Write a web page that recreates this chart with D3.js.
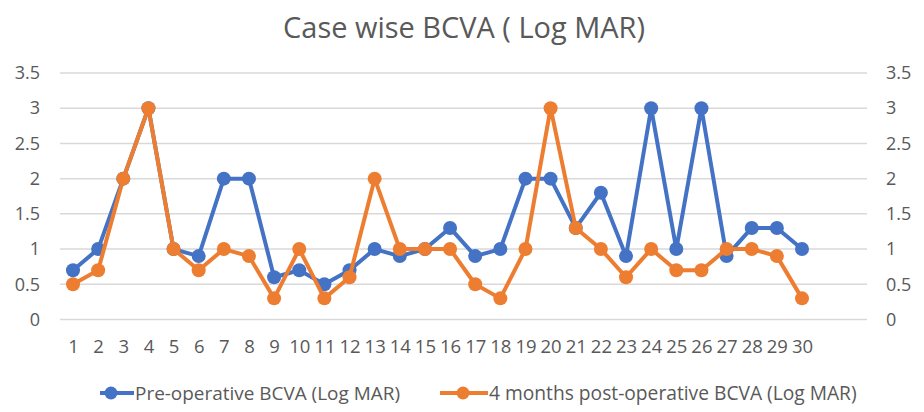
<!DOCTYPE html>
<html>
<head>
<meta charset="utf-8">
<script src="https://cdn.jsdelivr.net/npm/d3@7"></script>
<style>
  html, body { margin: 0; padding: 0; background: #ffffff; }
  svg { display: block; font-family: "Open Sans", "Noto Sans", sans-serif; }
</style>
</head>
<body>
<svg id="chart" width="924" height="412"></svg>
<script>
const title = "Case wise BCVA ( Log MAR)";
const categories = ["1","2","3","4","5","6","7","8","9","10","11","12","13","14","15","16","17","18","19","20","21","22","23","24","25","26","27","28","29","30"];
const preOp = [0.7,1,2,3,1,0.9,2,2,0.6,0.7,0.5,0.7,1,0.9,1,1.3,0.9,1,2,2,1.3,1.8,0.9,3,1,3,0.9,1.3,1.3,1];
const postOp = [0.5,0.7,2,3,1,0.7,1,0.9,0.3,1,0.3,0.6,2,1,1,1,0.5,0.3,1,3,1.3,1,0.6,1,0.7,0.7,1,1,0.9,0.3];
const yTicks = [0,0.5,1,1.5,2,2.5,3,3.5];
const seriesNames = ["Pre-operative BCVA (Log MAR)", "4 months post-operative BCVA (Log MAR)"];
const colors = ["#4472C4", "#ED7D31"];

const svg = d3.select("#chart");
const textColor = "#595959";

// scales
const x = d3.scalePoint().domain(categories).range([73, 802]);
const y = d3.scaleLinear().domain([0, 3.5]).range([319.5, 73]);
const gridLeft = 60, gridRight = 867;

function fit(sel, targetW) {
  const node = sel.node();
  const fs = parseFloat(sel.attr("font-size"));
  const w = node.getComputedTextLength();
  if (w > 0) sel.attr("font-size", (fs * targetW / w).toFixed(2));
}

// title
const t = svg.append("text")
  .attr("x", 464).attr("y", 38)
  .attr("text-anchor", "middle")
  .attr("font-size", 24)
  .attr("fill", textColor)
  .text(title);
fit(t, 362);

// gridlines
svg.append("g").selectAll("line").data(yTicks).join("line")
  .attr("x1", gridLeft).attr("x2", gridRight)
  .attr("y1", d => y(d)).attr("y2", d => y(d))
  .attr("stroke", "#D9D9D9").attr("stroke-width", 1.5);

// left axis
const leftAxis = d3.axisLeft(y).tickValues(yTicks).tickSize(0).tickPadding(0).tickFormat(d3.format("~g"));
const gl = svg.append("g").attr("transform", "translate(40,0)").call(leftAxis);
gl.select(".domain").remove();
gl.selectAll("text").attr("font-size", 18).attr("fill", textColor).attr("font-family", "Open Sans");

// right axis
const rightAxis = d3.axisRight(y).tickValues(yTicks).tickSize(0).tickPadding(0).tickFormat(d3.format("~g"));
const gr = svg.append("g").attr("transform", "translate(886,0)").call(rightAxis);
gr.select(".domain").remove();
gr.selectAll("text").attr("font-size", 18).attr("fill", textColor).attr("font-family", "Open Sans");

// bottom axis
const bottomAxis = d3.axisBottom(x).tickSize(0).tickPadding(0);
const gb = svg.append("g").attr("transform", "translate(0,340)").call(bottomAxis);
gb.select(".domain").remove();
gb.selectAll("text").attr("font-size", 18.5).attr("fill", textColor).attr("font-family", "Open Sans").attr("dy", "0.71em");

// series
const data = [preOp, postOp];
const line = d3.line().x((d, i) => x(categories[i])).y(d => y(d));
data.forEach((vals, si) => {
  const g = svg.append("g");
  g.append("path").datum(vals)
    .attr("d", line)
    .attr("fill", "none")
    .attr("stroke", colors[si])
    .attr("stroke-width", 4)
    .attr("stroke-linejoin", "round");
  g.selectAll("circle").data(vals).join("circle")
    .attr("cx", (d, i) => x(categories[i]))
    .attr("cy", d => y(d))
    .attr("r", 7)
    .attr("fill", colors[si]);
});

// legend
const legendItems = [
  { name: seriesNames[0], color: colors[0], x0: 100, x1: 134, cx: 111, tx: 135, tw: 265 },
  { name: seriesNames[1], color: colors[1], x0: 440, x1: 488, cx: 463, tx: 489, tw: 368 }
];
const lg = svg.append("g");
legendItems.forEach(it => {
  lg.append("line").attr("x1", it.x0).attr("x2", it.x1).attr("y1", 393).attr("y2", 393)
    .attr("stroke", it.color).attr("stroke-width", 4);
  lg.append("circle").attr("cx", it.cx).attr("cy", 393).attr("r", 6.5).attr("fill", it.color);
  const tt = lg.append("text").attr("x", it.tx).attr("y", 393).attr("dy", "0.35em")
    .attr("font-size", 17).attr("fill", textColor).text(it.name);
  fit(tt, it.tw);
});
</script>
</body>
</html>
